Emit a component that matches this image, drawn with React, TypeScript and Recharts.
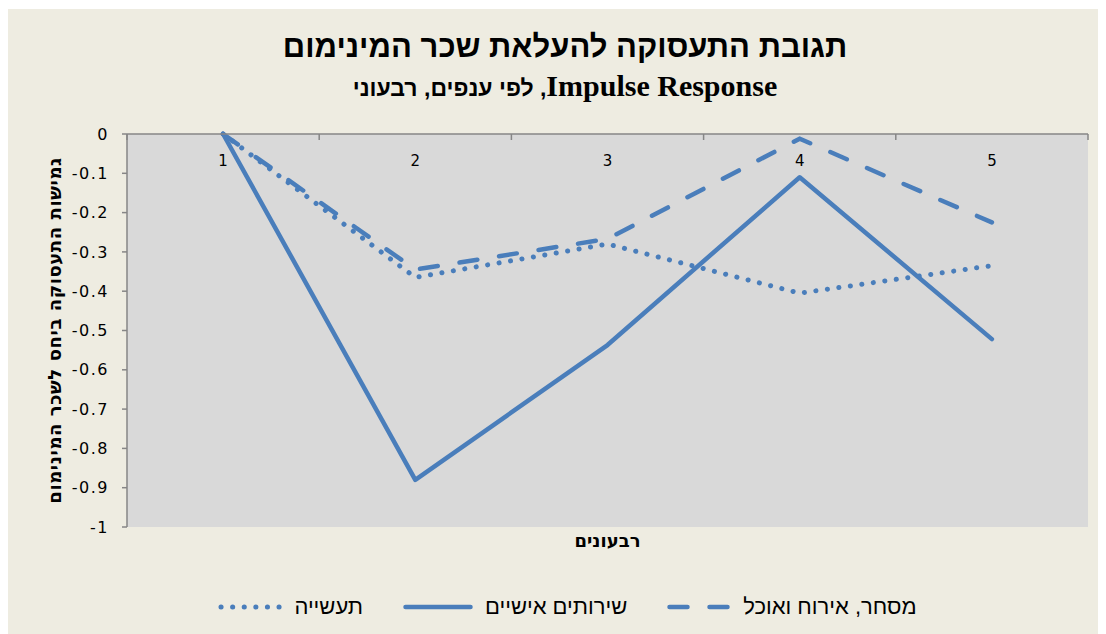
import React from "react";
import { LineChart, Line, XAxis, YAxis, CartesianGrid, Label } from "recharts";

const quarters = [1, 2, 3, 4, 5];
const industry = [0, -0.365, -0.28, -0.405, -0.335];
const personalServices = [0, -0.88, -0.537, -0.11, -0.522];
const tradeFood = [0, -0.345, -0.267, -0.012, -0.225];
const seriesNames = ["תעשייה", "שירותים אישיים", "מסחר, אירוח ואוכל"];
const yTicks = [0, -0.1, -0.2, -0.3, -0.4, -0.5, -0.6, -0.7, -0.8, -0.9, -1];
const xTicks = [0.5, 1, 1.5, 2, 2.5, 3, 3.5, 4, 4.5, 5, 5.5];
const title = "תגובת התעסוקה להעלאת שכר המינימום";
const subtitleLatin = "Impulse Response";
const subtitleHebrew = ", לפי ענפים, רבעוני";
const yTitle = "גמישות התעסוקה ביחס לשכר המינימום";
const xTitle = "רבעונים";

const data = quarters.map((q, i) => ({
  q,
  industry: industry[i],
  personal: personalServices[i],
  trade: tradeFood[i],
}));

const BLUE = "#4A7EBB";
const AXIS = "#868686";
const SANS = "'DejaVu Sans', sans-serif";
const HEB = "'Liberation Sans', 'DejaVu Sans', sans-serif";
const SERIF = "'Liberation Serif', serif";

const styles = {
  dotted: { strokeDasharray: "0.1 11.5", strokeWidth: 5 },
  solid: { strokeDasharray: undefined as string | undefined, strokeWidth: 4.5 },
  dashed: { strokeDasharray: "18 22", strokeWidth: 4.5 },
};

const TopTick = (props: any) => {
  const { x, y, payload } = props;
  const v = payload.value;
  if (Number.isInteger(v)) {
    return (
      <text x={x} y={y + 27} textAnchor="middle" dominantBaseline="central" fontFamily={SANS} fontSize={15} fill="#000">
        {v}
      </text>
    );
  }
  return <line x1={x} x2={x} y1={y} y2={y + 6} stroke={AXIS} strokeWidth={1.5} />;
};

const YTitle = (props: any) => {
  const vb = props.viewBox || { x: 0, y: 0, width: 0, height: 0 };
  const cx = vb.x + 46;
  const cy = vb.y + vb.height / 2;
  return (
    <text
      x={cx}
      y={cy}
      transform={`rotate(-90, ${cx}, ${cy})`}
      textAnchor="middle"
      dominantBaseline="central"
      fontFamily={SANS}
      fontWeight="bold"
      fontSize={18}
      letterSpacing={0.6}
      fill="#000"
    >
      {yTitle}
    </text>
  );
};

const LegendIcon = ({ kind }: { kind: "dotted" | "solid" | "dashed" }) => {
  const s = styles[kind];
  const w = kind === "solid" ? 70 : 64;
  return (
    <svg width={w} height={10} style={{ display: "block" }}>
      <line
        x1={kind === "dotted" ? 3 : 2.5}
        x2={w - 2.5}
        y1={5}
        y2={5}
        stroke={BLUE}
        strokeWidth={s.strokeWidth}
        strokeLinecap="round"
        strokeDasharray={s.strokeDasharray}
      />
    </svg>
  );
};

export default function App() {
  const legendItems: { name: string; kind: "dotted" | "solid" | "dashed" }[] = [
    { name: seriesNames[2], kind: "dashed" },
    { name: seriesNames[1], kind: "solid" },
    { name: seriesNames[0], kind: "dotted" },
  ];
  return (
    <div style={{ position: "relative", width: 1098, height: 626, background: "#EEECE1", marginTop: 1 }}>
      <div
        dir="rtl"
        style={{
          position: "absolute",
          top: 20,
          left: 8,
          width: 1098,
          textAlign: "center",
          fontFamily: HEB,
          fontWeight: "bold",
          fontSize: 31,
          lineHeight: "36px",
          color: "#000",
        }}
      >
        {title}
      </div>
      <div
        dir="rtl"
        style={{
          position: "absolute",
          top: 61,
          left: 8,
          width: 1098,
          textAlign: "center",
          fontWeight: "bold",
          lineHeight: "32px",
          color: "#000",
        }}
      >
        <span style={{ fontFamily: SERIF, fontSize: 30 }}>{subtitleLatin}</span>
        <span style={{ fontFamily: HEB, fontSize: 23 }}>{subtitleHebrew}</span>
      </div>
      <LineChart width={1098} height={626} data={data} margin={{ top: 124, right: 18, bottom: 108, left: 0 }}>
        <CartesianGrid horizontal={false} vertical={false} fill="#D9D9D9" fillOpacity={1} stroke="none" />
        <XAxis
          dataKey="q"
          type="number"
          orientation="top"
          domain={[0.5, 5.5]}
          ticks={xTicks}
          interval={0}
          height={1}
          tickSize={0}
          tickMargin={0}
          tickLine={false}
          axisLine={{ stroke: AXIS, strokeWidth: 1.5 }}
          tick={<TopTick />}
          allowDataOverflow
        />
        <YAxis
          type="number"
          domain={[-1, 0]}
          ticks={yTicks}
          interval={0}
          width={119}
          tickSize={5}
          tickMargin={13}
          axisLine={{ stroke: AXIS, strokeWidth: 1.5 }}
          tickLine={{ stroke: AXIS, strokeWidth: 1.5 }}
          tick={{ fontFamily: SANS, fontSize: 16, fill: "#000", letterSpacing: 1.5 }}
          tickFormatter={(v: number) => String(Math.round(v * 10) / 10)}
        >
          <Label content={<YTitle />} />
        </YAxis>
        <Line
          dataKey="industry"
          name={seriesNames[0]}
          stroke={BLUE}
          strokeWidth={styles.dotted.strokeWidth}
          strokeDasharray={styles.dotted.strokeDasharray}
          strokeLinecap="round"
          dot={false}
          activeDot={false}
          isAnimationActive={false}
          type="linear"
        />
        <Line
          dataKey="personal"
          name={seriesNames[1]}
          stroke={BLUE}
          strokeWidth={styles.solid.strokeWidth}
          strokeLinecap="round"
          strokeLinejoin="round"
          dot={false}
          activeDot={false}
          isAnimationActive={false}
          type="linear"
        />
        <Line
          dataKey="trade"
          name={seriesNames[2]}
          stroke={BLUE}
          strokeWidth={styles.dashed.strokeWidth}
          strokeDasharray={styles.dashed.strokeDasharray}
          strokeLinecap="round"
          dot={false}
          activeDot={false}
          isAnimationActive={false}
          type="linear"
        />
      </LineChart>
      <div
        dir="rtl"
        style={{
          position: "absolute",
          top: 521,
          left: 0,
          width: 1098 - 18 + 119,
          textAlign: "center",
          fontFamily: SANS,
          fontWeight: "bold",
          fontSize: 18,
          lineHeight: "22px",
          color: "#000",
        }}
      >
        {xTitle}
      </div>
      <div
        dir="rtl"
        style={{
          position: "absolute",
          top: 584,
          left: 0,
          width: 1119,
          display: "flex",
          justifyContent: "center",
          alignItems: "center",
          gap: 40,
          fontFamily: HEB,
          fontSize: 22,
          lineHeight: "28px",
          color: "#000",
        }}
      >
        {legendItems.map((it) => (
          <div key={it.name} style={{ display: "flex", alignItems: "center", gap: 12 }}>
            <span>{it.name}</span>
            <LegendIcon kind={it.kind} />
          </div>
        ))}
      </div>
    </div>
  );
}
